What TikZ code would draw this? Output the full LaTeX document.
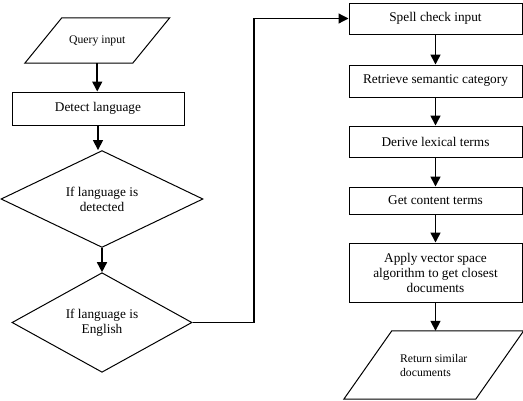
\documentclass[tikz,border=0pt]{standalone}
\usepackage{fontspec}
\setmainfont{Liberation Serif}
\usetikzlibrary{arrows.meta,shapes.geometric}
\tikzset{
	box/.style={draw, line width=1pt, rectangle, minimum width=173pt, inner sep=2pt, align=center, font=\fontsize{13.3}{15}\selectfont},
	decide/.style={draw, line width=1pt, diamond, inner sep=0pt, align=center, font=\fontsize{13.3}{15}\selectfont},
	io/.style={rectangle, inner sep=2pt, font=\fontsize{11.7}{14}\selectfont},
	slant/.style={line width=1pt, line join=miter},
	flow/.style={line width=1.6pt, -{Triangle[width=10pt,length=10pt]}},
	link/.style={line width=1.2pt, -{Triangle[width=10pt,length=10pt]}}
}

\begin{document}
\begin{tikzpicture}[x=1pt, y=-1pt]
		%%%%% START %%%%%
		\useasboundingbox (0, 0) rectangle (523, 400);
		
		\node[io, minimum width=107.5pt, minimum height=45pt] (query) at (97.25, 40.5) {Query input};
		\draw[slant] ([xshift=-18.5pt]query.south west) -- ([xshift=18.5pt]query.north west) -- ([xshift=18.5pt]query.north east) -- ([xshift=-18.5pt]query.south east) -- cycle;
		\node[box, minimum width=172pt, minimum height=33pt] (detect) at (98, 108.5) {Detect language};
		\node[decide, minimum width=202pt, minimum height=92pt] (detected) at (102, 199) {If language is\\detected};
		\node[decide, minimum width=180pt, minimum height=93pt] (english) at (102, 322.5) {If language is\\English};
		
		\node[box, minimum height=31pt] (spell) at (435.5, 18.5) {Spell check input};
		\node[box, minimum height=32pt] (semantic) at (435.5, 81) {Retrieve semantic category};
		\node[box, minimum height=31pt] (lexical) at (435.5, 141.5) {Derive lexical terms};
		\node[box, minimum height=27pt] (content) at (435.5, 200.5) {Get content terms};
		\node[box, minimum height=59pt] (vector) at (435.5, 272.5) {Apply vector space\\algorithm to get closest\\documents};
		\node[io, minimum width=131.5pt, minimum height=68pt, align=left] (similar) at (433.75, 365) {Return similar\\documents};
		\draw[slant] ([xshift=-24pt]similar.south west) -- ([xshift=24pt]similar.north west) -- ([xshift=24pt]similar.north east) -- ([xshift=-24pt]similar.south east) -- cycle;
		
		\coordinate (bend) at (254, 0);
		
		\draw[flow] (query.south) -- (query.south |- detect.north);
		\draw[flow] (detect.south) -- (detect.south |- detected.north);
		\draw[flow] (detected.south) -- (detected.south |- english.north);
		\draw[link] (english.east) -- (english.east -| bend) |- (spell.west);
		
		\draw[flow] (spell) -- (semantic);
		\draw[flow] (semantic) -- (lexical);
		\draw[flow] (lexical) -- (content);
		\draw[flow] (content) -- (vector);
		\draw[flow] (vector.south) -- (vector.south |- similar.north);
		
		%%%%% END %%%%%
\end{tikzpicture}
\end{document}
